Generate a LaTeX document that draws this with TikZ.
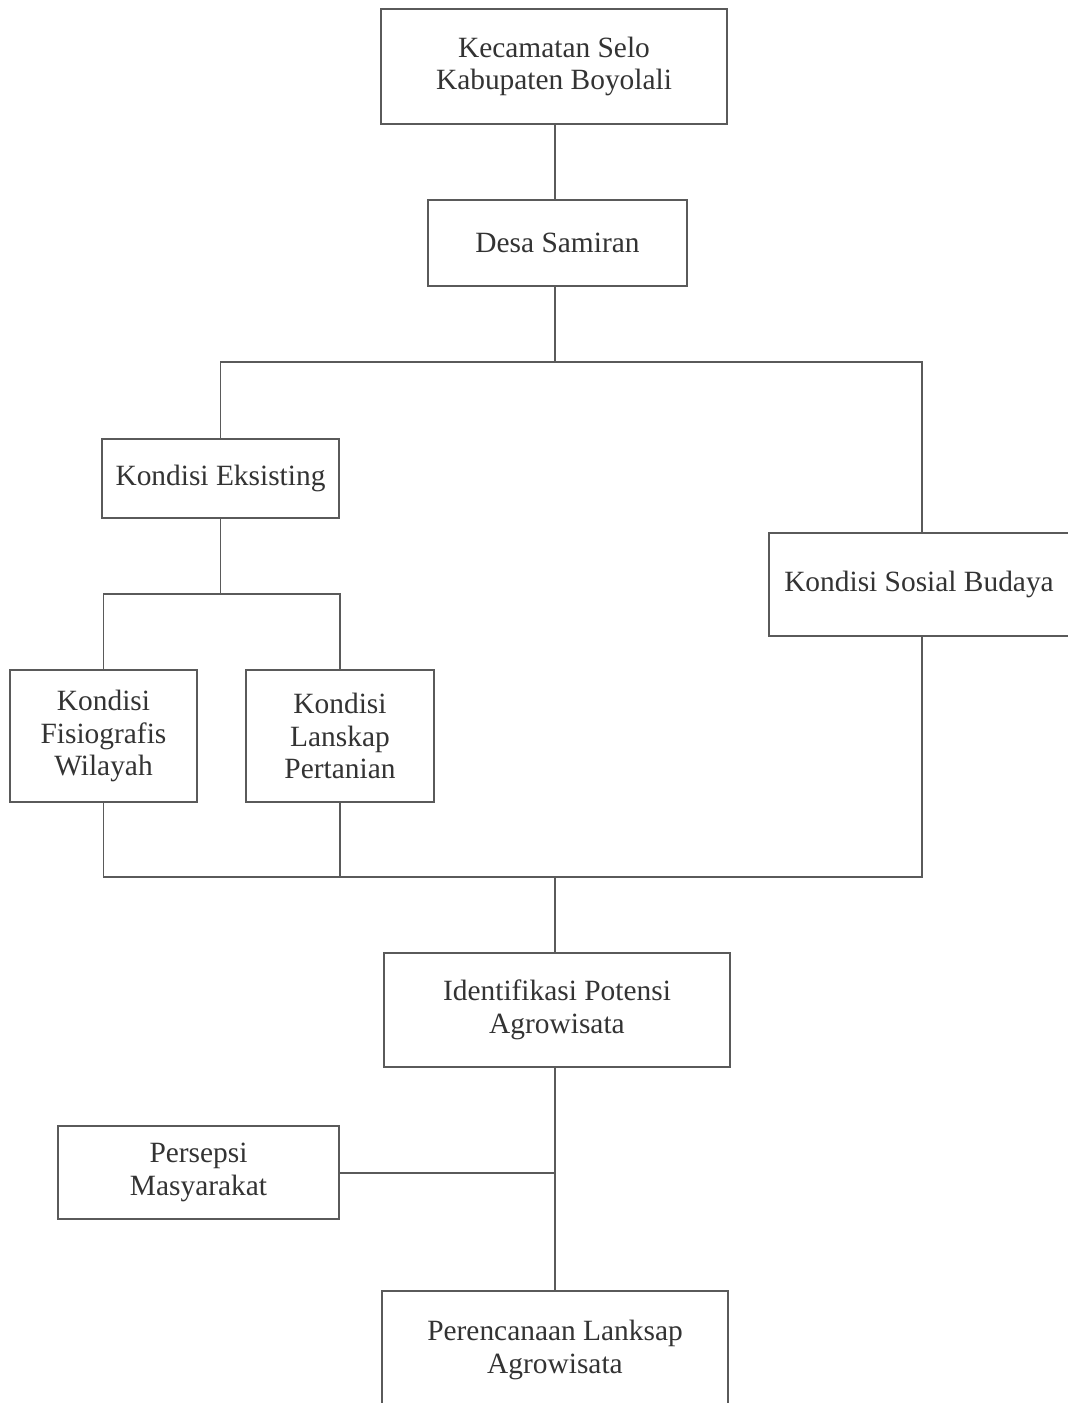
\documentclass[tikz,border=0pt]{standalone}
\usepackage{fontspec}
\setmainfont{Liberation Serif}
\definecolor{linegray}{HTML}{5A5A5A}
\definecolor{textgray}{HTML}{333333}
\begin{document}
\begin{tikzpicture}[x=1pt,y=-1pt,
  box/.style={draw=linegray, line width=1.3pt, rectangle, align=center, inner sep=0pt,
    text=textgray, font=\fontsize{29.4}{32.5}\selectfont},
  conn/.style={draw=linegray, line width=1.3pt}]
\clip (0,0) rectangle (1068,1403);
\fill[white] (0,0) rectangle (1068,1403);
\node[box, minimum width=346pt, minimum height=115pt] (kec) at (554,66.5) {Kecamatan Selo\\Kabupaten Boyolali};
\node[box, minimum width=259pt, minimum height=86pt] (desa) at (557.5,243) {Desa Samiran};
\node[box, minimum width=237pt, minimum height=79pt] (eks) at (220.5,478.5) {\raisebox{-3pt}{Kondisi Eksisting}};
\node[box, minimum width=306pt, minimum height=103pt] (sos) at (922,584.5) {Kondisi Sosial Budaya\hspace*{6pt}};
\node[box, minimum width=187pt, minimum height=132pt] (fis) at (103.5,736) {Kondisi\\Fisiografis\\Wilayah};
\node[box, minimum width=188pt, minimum height=132pt] (lan) at (340,736) {Kondisi\\Lanskap\\Pertanian};
\node[box, minimum width=346pt, minimum height=114pt] (ide) at (557,1010) {Identifikasi Potensi\\Agrowisata};
\node[box, minimum width=281pt, minimum height=93pt] (per) at (198.5,1172.5) {Persepsi\\Masyarakat};
\node[box, minimum width=346pt, minimum height=118pt] (ren) at (555,1350) {Perencanaan Lanksap\\Agrowisata};

\coordinate (j1) at (555,362);
\coordinate (j2) at (220.5,594);
\coordinate (j3) at (555,877);
\coordinate (j4) at (555,1173);

\draw[conn] (kec.south -| j1) -- (desa.north -| j1);
\draw[conn] (desa.south -| j1) -- (j1);
\draw[conn] (eks.north) -- (eks.north |- j1) -- (sos.north |- j1) -- (sos.north);
\draw[conn] (eks.south) -- (j2);
\draw[conn] (fis.north) -- (fis.north |- j2) -- (lan.north |- j2) -- (lan.north);
\draw[conn] (fis.south) -- (fis.south |- j3) -- (sos.south |- j3) -- (sos.south);
\draw[conn] (lan.south) -- (lan.south |- j3);
\draw[conn] (j3) -- (ide.north -| j3);
\draw[conn] (ide.south -| j3) -- (ren.north -| j3);
\draw[conn] (per.east |- j4) -- (j4);
\end{tikzpicture}
\end{document}
